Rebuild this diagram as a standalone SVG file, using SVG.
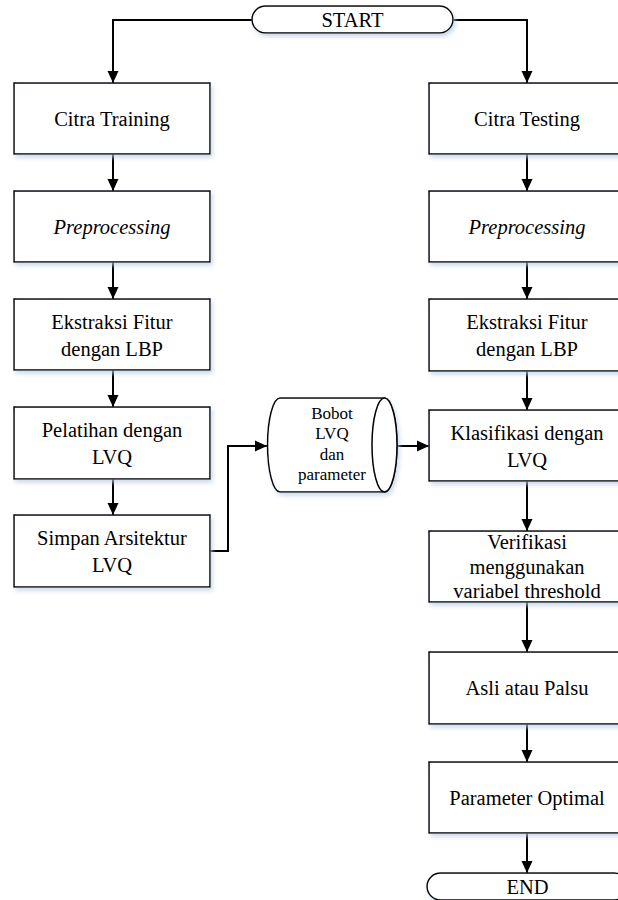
<svg xmlns="http://www.w3.org/2000/svg" width="618" height="900" viewBox="0 0 618 900">
<style>
.box{fill:#fff;stroke:#000;stroke-width:1.5;filter:url(#sh)}
.t{font-family:"Liberation Serif","Times New Roman",serif;font-size:20.5px;fill:#000;text-anchor:middle}
.ts{font-family:"Liberation Serif","Times New Roman",serif;font-size:17px;fill:#000;text-anchor:middle}
.it{font-style:italic}
.c{fill:none;stroke:#000;stroke-width:2;marker-end:url(#ah)}
</style>
<defs>
<filter id="sh" x="-10%" y="-10%" width="125%" height="130%">
<feDropShadow dx="2" dy="3" stdDeviation="2" flood-color="#b8cce4" flood-opacity="0.7"/>
</filter>
<marker id="ah" markerUnits="userSpaceOnUse" markerWidth="12" markerHeight="12" viewBox="0 0 12 12" refX="12" refY="6" orient="auto">
<path d="M0,0.5 L12,6 L0,11.5 z" fill="#000"/>
</marker>
</defs>
<rect width="618" height="900" fill="#fff"/>
<g id="connectors">
<path class="c" d="M252,20 H113 V83"/>
<path class="c" d="M453,20 H527 V83"/>
<path class="c" d="M113,154 V191"/>
<path class="c" d="M113,262 V299"/>
<path class="c" d="M113,370 V407"/>
<path class="c" d="M113,479 V515"/>
<path class="c" d="M210,551 H228 V446 H267"/>
<path class="c" d="M397,446 H429"/>
<path class="c" d="M527,154 V191"/>
<path class="c" d="M527,262 V299"/>
<path class="c" d="M527,371 V410"/>
<path class="c" d="M527,481 V531"/>
<path class="c" d="M527,602 V652"/>
<path class="c" d="M527,724 V762"/>
<path class="c" d="M527,833 V873"/>
</g>
<g id="start">
<rect class="box" x="252" y="6" width="201" height="27" rx="13.5"/>
<text class="t" x="352.5" y="26.5">START</text>
</g>
<g id="citra-training">
<rect class="box" x="14" y="83" width="196" height="71"/>
<text class="t" x="112" y="126">Citra Training</text>
</g>
<g id="preprocessing-l">
<rect class="box" x="14" y="191" width="196" height="71"/>
<text class="t it" x="112" y="234">Preprocessing</text>
</g>
<g id="ekstraksi-l">
<rect class="box" x="14" y="299" width="196" height="71"/>
<text class="t" x="112" y="328.5">Ekstraksi Fitur</text>
<text class="t" x="112" y="355.5">dengan LBP</text>
</g>
<g id="pelatihan">
<rect class="box" x="14" y="407" width="196" height="72"/>
<text class="t" x="112" y="437">Pelatihan dengan</text>
<text class="t" x="112" y="464">LVQ</text>
</g>
<g id="simpan">
<rect class="box" x="14" y="515" width="196" height="72"/>
<text class="t" x="112" y="545">Simpan Arsitektur</text>
<text class="t" x="112" y="572">LVQ</text>
</g>
<g id="bobot">
<path d="M280,398 H384.5 A12.5,47 0 0 1 384.5,492 H280 A12.5,47 0 0 1 280,398 Z" fill="#fff" stroke="#000" stroke-width="1.5" filter="url(#sh)"/>
<ellipse cx="384.5" cy="445" rx="12.5" ry="47" fill="#fff" stroke="#000" stroke-width="1.5"/>
<text class="ts" x="332" y="418.5">Bobot</text>
<text class="ts" x="332" y="439">LVQ</text>
<text class="ts" x="332" y="459.5">dan</text>
<text class="ts" x="332" y="480">parameter</text>
</g>
<g id="citra-testing">
<rect class="box" x="429" y="83" width="196" height="71"/>
<text class="t" x="527" y="126">Citra Testing</text>
</g>
<g id="preprocessing-r">
<rect class="box" x="429" y="191" width="196" height="71"/>
<text class="t it" x="527" y="234">Preprocessing</text>
</g>
<g id="ekstraksi-r">
<rect class="box" x="429" y="299" width="196" height="72"/>
<text class="t" x="527" y="329">Ekstraksi Fitur</text>
<text class="t" x="527" y="356">dengan LBP</text>
</g>
<g id="klasifikasi">
<rect class="box" x="429" y="410" width="196" height="71"/>
<text class="t" x="527" y="440">Klasifikasi dengan</text>
<text class="t" x="527" y="467">LVQ</text>
</g>
<g id="verifikasi">
<rect class="box" x="429" y="531" width="196" height="71"/>
<text class="t" x="527" y="548.5">Verifikasi</text>
<text class="t" x="527" y="574">menggunakan</text>
<text class="t" x="527" y="598">variabel threshold</text>
</g>
<g id="asli">
<rect class="box" x="429" y="652" width="196" height="72"/>
<text class="t" x="527" y="695">Asli atau Palsu</text>
</g>
<g id="parameter">
<rect class="box" x="429" y="762" width="196" height="71"/>
<text class="t" x="527" y="805">Parameter Optimal</text>
</g>
<g id="end">
<rect class="box" x="427" y="873" width="201" height="27" rx="13.5"/>
<text class="t" x="527.5" y="893.5">END</text>
</g>
</svg>
